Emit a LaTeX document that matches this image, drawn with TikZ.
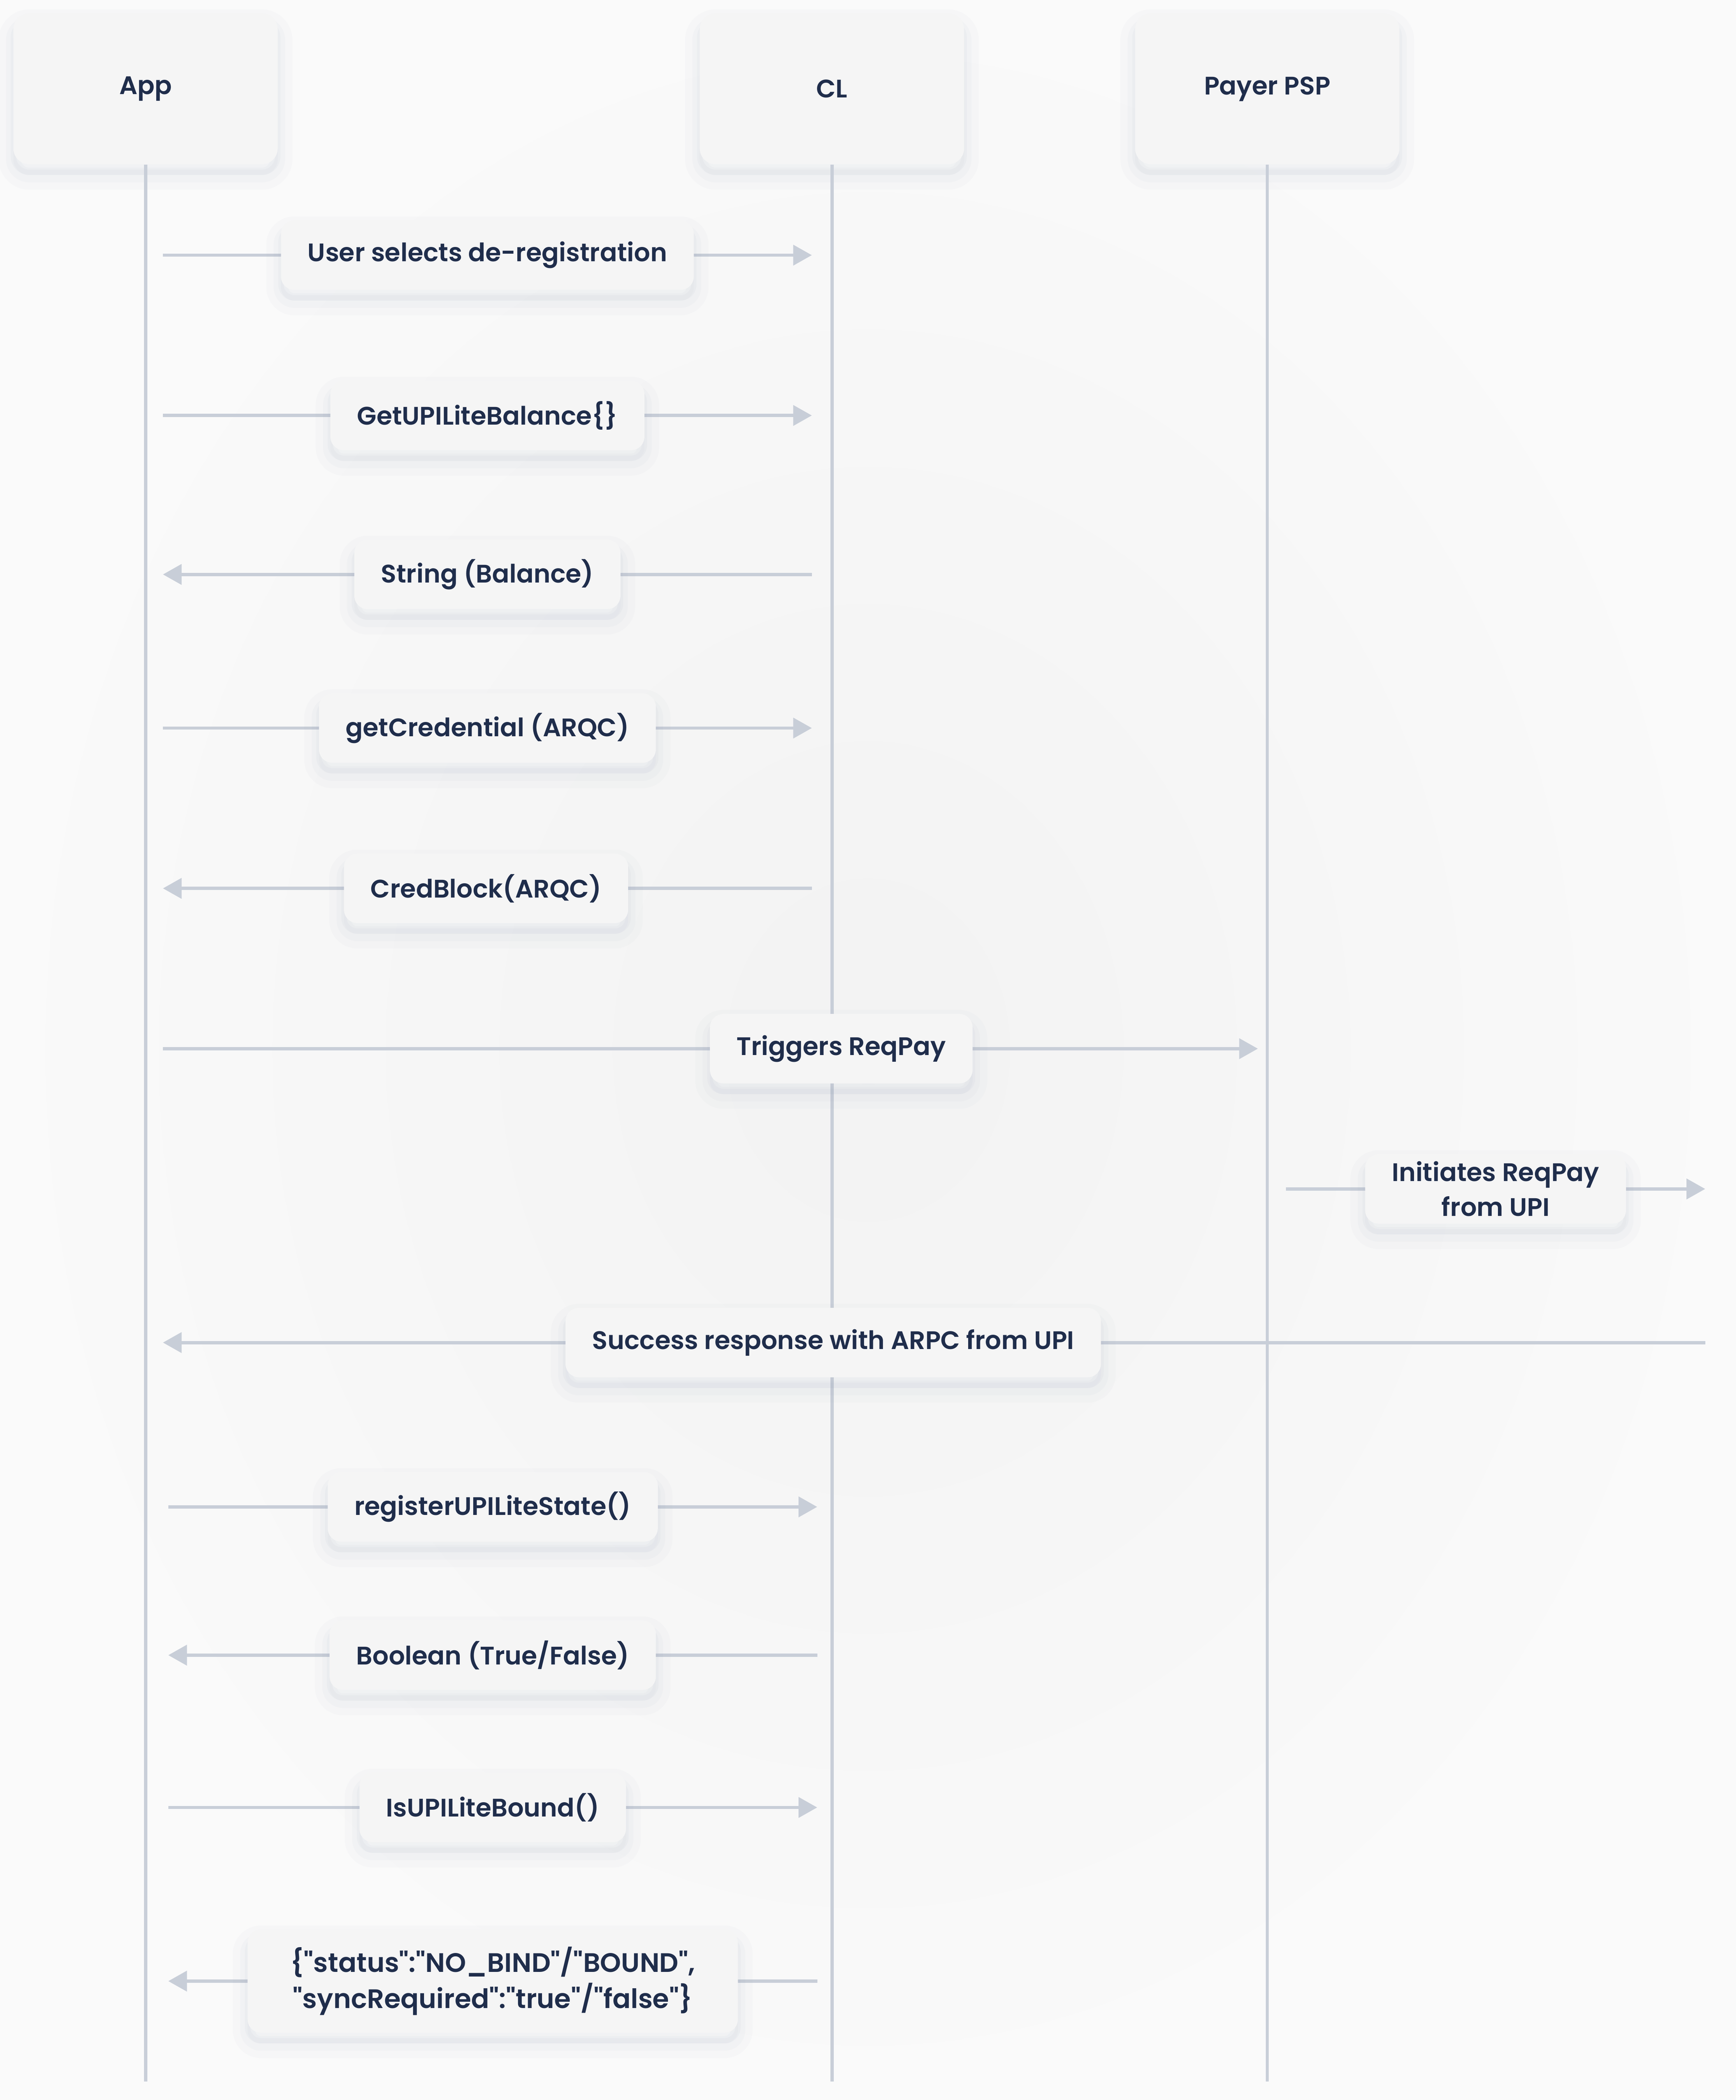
\documentclass[tikz,border=0pt]{standalone}
\usepackage{fontspec}
\setmainfont{Poppins}[Ligatures=TeXOff,BoldFont={Poppins SemiBold}]
\usetikzlibrary{arrows.meta,shadows}
\definecolor{inkblue}{HTML}{1F2D4B}
\definecolor{linegray}{HTML}{C8CED8}
\definecolor{boxgray}{HTML}{F5F5F5}
\definecolor{shadowblue}{HTML}{8A96B4}
\begin{document}
\begin{tikzpicture}[x=1pt,y=-1pt,
  softshadow/.style={%
    general shadow={shadow yshift=-8pt,draw=shadowblue,draw opacity=0.03,line width=22pt,fill=shadowblue,fill opacity=0.04},%
    general shadow={shadow yshift=-8pt,draw=shadowblue,draw opacity=0.04,line width=11pt},%
    general shadow={shadow yshift=-6pt,draw=shadowblue,draw opacity=0.05,line width=4pt}},%
  actordecorate/.style={shape=rectangle,rounded corners=12pt,fill=boxgray,%
    minimum width=198pt,minimum height=113pt,text=inkblue,%
    font=\bfseries\fontsize{19}{24}\selectfont,softshadow},%
  labeldecorate/.style={shape=rectangle,rounded corners=10pt,fill=boxgray,%
    inner xsep=20pt,inner ysep=5pt,minimum height=52pt,align=center,text=inkblue,%
    font=\bfseries\fontsize{19}{26}\selectfont,softshadow},%
  plainbox/.style={},%
  tallbox/.style={inner ysep=2pt},%
  jsonbox/.style={inner xsep=32pt,inner ysep=13pt,font=\bfseries\fontsize{20}{27}\selectfont},%
  arrowdecorate/.style={-{Triangle[length=14pt,width=15pt]},draw=linegray,line width=2.5pt},%
  linedecorate/.style={-,draw=linegray,line width=2.5pt}]
%% background
\useasboundingbox (0,0) rectangle (1300,1572);
\shade[inner color=black!5,outer color=black!2] (0,0) rectangle (1300,1572);
%% participants and lifelines
\foreach \nodename/\x/\text in {app/109/App, cl/623/CL, psp/949/Payer PSP} {
  \node (\nodename) at (\x,66.5) [actordecorate] {\text};
  \coordinate (\nodename-end) at (\x,1558);
  \draw[linedecorate] (\nodename.south) -- (\nodename-end);
}
%% messages
\foreach \msgname/\fromx/\tox/\y/\lx/\boxstyle/\text in {
  m1/122/608/191/365/plainbox/{User selects de-registration},
  m2/122/608/311/365/plainbox/{GetUPILiteBalance\{\}},
  m3/608/122/430/365/plainbox/{String (Balance)},
  m4/122/608/545/365/plainbox/{getCredential (ARQC)},
  m5/608/122/665/364/plainbox/{CredBlock(ARQC)},
  m6/122/942/785/630/plainbox/{Triggers ReqPay},
  m7/963/1277/890/1120/tallbox/{Initiates ReqPay\\from UPI},
  m8/1277/122/1005/624/plainbox/{Success response with ARPC from UPI},
  m9/126/612/1128/369/plainbox/{registerUPILiteState()},
  m10/612/126/1239/369/plainbox/{Boolean (True/False)},
  m11/126/612/1353/369/plainbox/{IsUPILiteBound()},
  m12/612/126/1483/369/jsonbox/{\{"status":"NO\_BIND"/"BOUND",\\"syncRequired":"true"/"false"\}}} {
  \coordinate (\msgname-from) at (\fromx,\y);
  \coordinate (\msgname-to) at (\tox,\y);
  \draw[arrowdecorate] (\msgname-from) -- (\msgname-to);
  \node (\msgname) at (\lx,\y) [labeldecorate,\boxstyle] {\text};
}
\end{tikzpicture}
\end{document}
